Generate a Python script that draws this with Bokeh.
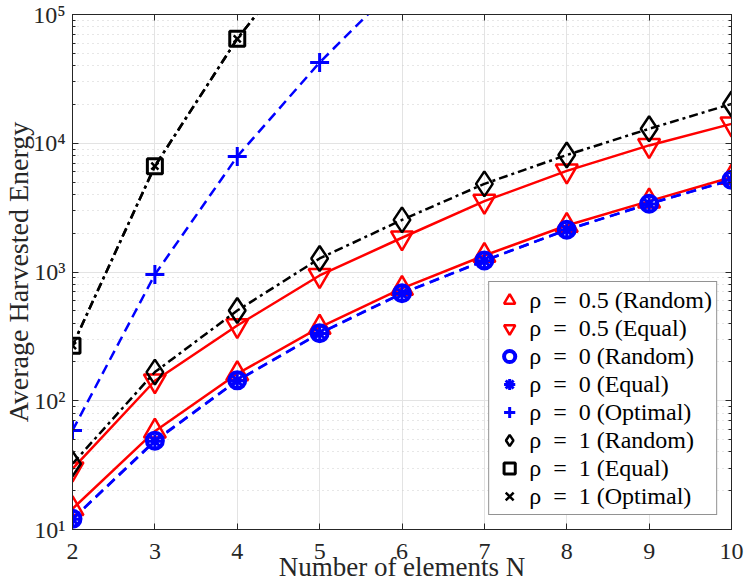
from bokeh.plotting import figure
from bokeh.models import (FixedTicker, Legend, LegendItem, LinearAxis, LogAxis,
                          CustomJSTickFormatter)
from bokeh.embed import file_html
from bokeh.resources import INLINE

# ---- data ----
N = [2, 3, 4, 5, 6, 7, 8, 9, 10]
rho05_random = [14.5, 58, 162, 371, 745, 1343, 2297, 3550, 5440]
rho05_equal = [29.6, 143, 384, 940, 1845, 3550, 6100, 9620, 14150]
rho0_random = [12.1, 49, 144, 335, 684, 1228, 2130, 3390, 5200]
rho0_equal = [12.0, 48.5, 143, 333, 680, 1222, 2120, 3380, 5180]
N_rho0_opt = [2, 3, 4, 5, 6]
rho0_optimal = [58.8, 955, 7890, 42400, 184000]
rho1_random = [32.4, 167, 502, 1274, 2540, 4840, 8100, 12950, 20200]
N_rho1_opt = [2, 3, 4, 5]
rho1_equal = [268, 6640, 64700, 420000]
rho1_optimal = [268, 6640, 64700, 420000]

SP = "\u2002"
labels = [f"ρ{SP}={SP}0.5 (Random)", f"ρ{SP}={SP}0.5 (Equal)", f"ρ{SP}={SP}0 (Random)",
          f"ρ{SP}={SP}0 (Equal)", f"ρ{SP}={SP}0 (Optimal)", f"ρ{SP}={SP}1 (Random)",
          f"ρ{SP}={SP}1 (Equal)", f"ρ{SP}={SP}1 (Optimal)"]
xticks = [2, 3, 4, 5, 6, 7, 8, 9, 10]
yticks = [10, 100, 1000, 10000, 100000]
yminor = [m * 10 ** k for k in range(1, 5) for m in range(2, 10)]

FONT = "Liberation Serif"
AX = "#262626"

p = figure(width=747, height=588, y_axis_type="log", x_range=(2, 10), y_range=(10, 1e5),
           output_backend="svg", toolbar_location=None,
           min_border_left=72, min_border_right=16, min_border_top=14, min_border_bottom=59)
p.background_fill_color = "white"
p.border_fill_color = "white"
p.outline_line_color = AX

ylab_fmt = CustomJSTickFormatter(code="""
const sup = {"0":"\u2070","1":"\u00b9","2":"\u00b2","3":"\u00b3","4":"\u2074","5":"\u2075","6":"\u2076","7":"\u2077","8":"\u2078","9":"\u2079"};
const e = Math.round(Math.log10(tick));
return "10" + String(e).split("").map(c => sup[c]).join("");
""")
blank_fmt = CustomJSTickFormatter(code="return '';")

xt = FixedTicker(ticks=xticks)
yt = FixedTicker(ticks=yticks, minor_ticks=yminor)

bottom = p.below[0]
left = p.left[0]
bottom.ticker = xt
bottom.axis_label = "Number of elements N"
left.ticker = yt
left.formatter = ylab_fmt
left.axis_label = "Average Harvested Energy"

top = LinearAxis(ticker=xt, formatter=blank_fmt, major_label_standoff=0)
right = LogAxis(ticker=yt, formatter=blank_fmt, major_label_standoff=0)
p.add_layout(top, "above")
p.add_layout(right, "right")

for ax in [bottom, left, top, right]:
    ax.axis_line_color = AX
    ax.major_tick_line_color = AX
    ax.minor_tick_line_color = AX
    ax.major_tick_in = 6
    ax.major_tick_out = 0
    ax.minor_tick_in = 3
    ax.minor_tick_out = 0
    ax.major_label_text_font = FONT
    ax.major_label_text_color = AX
    ax.major_label_text_font_size = "24px"
    ax.axis_label_text_font = FONT
    ax.axis_label_text_color = AX
    ax.axis_label_text_font_style = "normal"
    ax.axis_label_text_font_size = "27px"
top.major_label_text_font_size = "1px"
right.major_label_text_font_size = "1px"
left.axis_label_text_font_size = "28px"

bottom.major_label_standoff = 14
bottom.axis_label_standoff = -10
left.major_label_standoff = 7
left.axis_label_standoff = -4

p.xgrid.grid_line_color = "#e3e3e3"
p.ygrid.grid_line_color = "#e3e3e3"
p.ygrid.minor_grid_line_color = "#cfcfcf"
p.ygrid.minor_grid_line_dash = "1 4"

LW = 2.5
RED, BLUE, BLACK = "#ff0000", "#0000ff", "#000000"
DASH = "10 6"
DASHDOT = "9 4 3 4"

# red
p.line(N, rho05_random, line_color=RED, line_width=LW)
p.line(N, rho05_equal, line_color=RED, line_width=LW)
r1 = p.scatter(N, rho05_random, marker="triangle", size=22, fill_color=None,
               line_color=RED, line_width=LW)
r2 = p.scatter(N, rho05_equal, marker="inverted_triangle", size=22, fill_color=None,
               line_color=RED, line_width=LW)
# blue
p.line(N, rho0_random, line_color=BLUE, line_width=LW, line_dash=DASH)
p.line(N, rho0_equal, line_color=BLUE, line_width=LW, line_dash=DASH)
p.line(N_rho0_opt, rho0_optimal, line_color=BLUE, line_width=LW, line_dash=DASH)
r3 = p.scatter(N, rho0_random, marker="circle", size=16, fill_color=None,
               line_color=BLUE, line_width=4)
r4 = p.scatter(N, rho0_equal, marker="asterisk", size=13, line_color=BLUE, line_width=3)
r5 = p.scatter(N_rho0_opt, rho0_optimal, marker="cross", size=19, line_color=BLUE, line_width=3)
# black
p.line(N, rho1_random, line_color=BLACK, line_width=LW, line_dash=DASHDOT)
p.line(N_rho1_opt, rho1_equal, line_color=BLACK, line_width=LW, line_dash=DASHDOT)
p.line(N_rho1_opt, rho1_optimal, line_color=BLACK, line_width=LW, line_dash=DASHDOT)
r6 = p.scatter(N, rho1_random, marker="diamond", size=25, fill_color=None,
               line_color=BLACK, line_width=LW)
r7 = p.scatter(N_rho1_opt, rho1_equal, marker="square", size=15, fill_color=None,
               line_color=BLACK, line_width=3)
r8 = p.scatter(N_rho1_opt, rho1_optimal, marker="x", size=10, line_color=BLACK, line_width=2.5)

items = [LegendItem(label=l, renderers=[r]) for l, r in
         zip(labels, [r1, r2, r3, r4, r5, r6, r7, r8])]
leg = Legend(items=items, location="bottom_right", margin=14, padding=4, spacing=0,
             glyph_width=32, glyph_height=28, label_height=28, label_standoff=4,
             label_text_font=FONT, label_text_font_size="24px", label_text_color="#000000",
             border_line_color=AX, border_line_width=1, background_fill_alpha=1.0)
p.add_layout(leg, "center")

open("out.html", "w").write(file_html(p, INLINE))
